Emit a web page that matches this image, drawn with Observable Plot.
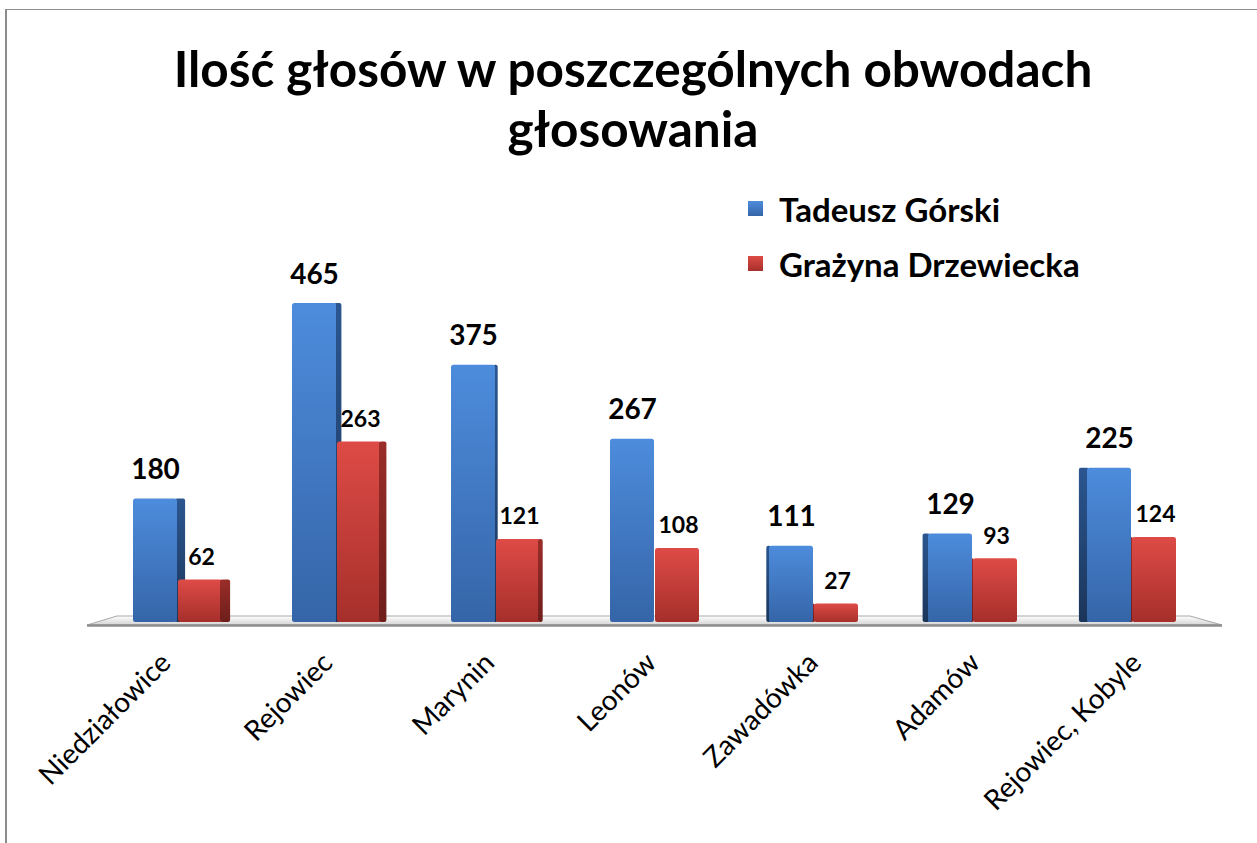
<!DOCTYPE html>
<html>
<head>
<meta charset="utf-8">
<script src="https://cdn.jsdelivr.net/npm/d3@7"></script>
<script src="https://cdn.jsdelivr.net/npm/@observablehq/plot@0.6"></script>
<style>
  html, body { margin: 0; padding: 0; background: #fff; overflow: hidden; }
  #wrap { position: relative; width: 1257px; height: 843px; font-family: Lato, "Open Sans", sans-serif; }
  #frame { position: absolute; left: 5px; top: 9px; right: -10px; bottom: -10px; border-top: 1.5px solid #8c8c8c; border-left: 2.5px solid #8c8c8c; }
  #title { position: absolute; left: 0; width: 1266px; top: 38px; text-align: center; font-weight: 700; font-size: 49.5px; line-height: 60px; color: #000; }
  #legend { position: absolute; left: 748px; top: 181px; }
  .li { display: flex; align-items: center; height: 55px; font-size: 33px; font-weight: 700; color: #000; }
  .sw { width: 15px; height: 15px; margin-right: 16px; }
  #chart { position: absolute; left: 0; top: 0; }
</style>
</head>
<body>
<div id="wrap">
  <div id="frame"></div>
  <div id="chart"></div>
  <div id="title">Ilość głosów w poszczególnych obwodach<br>głosowania</div>
  <div id="legend"></div>
</div>
<script>
const categories = ["Niedziałowice", "Rejowiec", "Marynin", "Leonów", "Zawadówka", "Adamów", "Rejowiec, Kobyle"];
const seriesNames = ["Tadeusz Górski", "Grażyna Drzewiecka"];
const gorski = [180, 465, 375, 267, 111, 129, 225];
const drzewiecka = [62, 263, 121, 108, 27, 93, 124];

const blueData = categories.map((c, i) => ({cat: c, value: gorski[i], i}));
const redData = categories.map((c, i) => ({cat: c, value: drzewiecka[i], i}));

function defsMark() {
  const defs = d3.create("svg:defs");
  const grads = [
    ["gBlue", "#4d8cdc", "#3565a8"],
    ["gRed", "#de4b46", "#a62f2b"],
    ["gBlueSide", "#2b5690", "#1b3559"],
    ["gRedSide", "#9a2d29", "#6e1e1b"],
    ["gFloor", "#ffffff", "#d4d4d4"]
  ];
  for (const [id, c1, c2] of grads) {
    const g = defs.append("linearGradient").attr("id", id).attr("x1", 0).attr("y1", 0).attr("x2", 0).attr("y2", 1);
    g.append("stop").attr("offset", "0%").attr("stop-color", c1);
    g.append("stop").attr("offset", "100%").attr("stop-color", c2);
  }
  return defs.node();
}

function floorMark(...args) {
  const dims = args.find(a => a && typeof a === "object" && a.marginLeft !== undefined && a.width !== undefined);
  const x0 = dims.marginLeft, x1 = dims.width - dims.marginRight, y0 = dims.height - dims.marginBottom;
  const g = d3.create("svg:g");
  g.append("polygon")
    .attr("points", [[x0 - 16, y0 - 6], [x1 + 13, y0 - 6], [x1 + 45, y0 + 3], [x0 - 46, y0 + 3]].map(p => p.join(",")).join(" "))
    .attr("fill", "url(#gFloor)").attr("stroke", "#a8a8a8").attr("stroke-width", 1);
  g.append("line").attr("x1", x0 - 46).attr("x2", x1 + 45).attr("y1", y0 + 3.5).attr("y2", y0 + 3.5)
    .attr("stroke", "#8e8e8e").attr("stroke-width", 2.5);
  return g.node();
}

const BW = 90; // band width in px (two bars of ~45)
const sideW = i => (3 - i) * 2.7;

const marks = [defsMark, floorMark];

for (const d of redData) {
  const s = sideW(d.i);
  if (s < 0) marks.push(Plot.barY([d], {x: "cat", y: "value", fill: "url(#gRedSide)", insetRight: BW + s - 2, dx: 45 + s - 1, rx: 2}));
}
for (const d of blueData) {
  const s = sideW(d.i);
  if (s > 0.5) marks.push(Plot.barY([d], {x: "cat", y: "value", fill: "url(#gBlueSide)", insetRight: BW - s - 2, dx: 42, rx: 2}));
  if (s < -0.5) marks.push(Plot.barY([d], {x: "cat", y: "value", fill: "url(#gBlueSide)", insetRight: BW + s - 2, dx: s, rx: 2}));
}
marks.push(Plot.barY(blueData, {x: "cat", y: "value", fill: "url(#gBlue)", insetRight: 46, rx: 2.5}));
marks.push(Plot.barY(redData, {x: "cat", y: "value", fill: "url(#gRed)", insetLeft: 45, insetRight: 1, rx: 2.5}));
for (const d of redData) {
  const s = sideW(d.i);
  if (s > 0.5) marks.push(Plot.barY([d], {x: "cat", y: "value", fill: "url(#gRedSide)", insetRight: BW - s - 2, dx: 87, rx: 2}));
}

// value labels
marks.push(Plot.text(blueData, {x: "cat", y: "value", text: d => String(d.value), dx: -23, dy: -20, lineAnchor: "bottom",
  fontSize: 28, fontWeight: 700, fill: "#000", fontFamily: "Lato"}));
marks.push(Plot.text(redData, {x: "cat", y: "value", text: d => String(d.value), dx: 23, dy: -15, lineAnchor: "bottom",
  fontSize: 23, fontWeight: 700, fill: "#000", fontFamily: "Lato"}));

// category labels (slight perspective spread)
categories.forEach((c, i) => {
  marks.push(Plot.text([c], {x: d => d, frameAnchor: "bottom", text: d => d, rotate: -45, textAnchor: "end",
    dx: -6 + i * 2.8, dy: 42, fontSize: 28, fill: "#000", fontFamily: "Lato"}));
});

const chart = Plot.plot({
  width: 1257,
  height: 843,
  marginLeft: 133,
  marginRight: 80,
  marginTop: 279,
  marginBottom: 221,
  x: {domain: categories, paddingInner: 1 - 90 / 159, paddingOuter: 0, round: false, axis: null},
  y: {domain: [0, 500], axis: null},
  style: {background: "transparent", overflow: "visible"},
  marks
});
document.getElementById("chart").appendChild(chart);

const legend = document.getElementById("legend");
const swatchFills = ["linear-gradient(#4d8cdc, #3565a8)", "linear-gradient(#de4b46, #a62f2b)"];
seriesNames.forEach((name, k) => {
  const row = document.createElement("div");
  row.className = "li";
  const sw = document.createElement("div");
  sw.className = "sw";
  sw.style.background = swatchFills[k];
  row.appendChild(sw);
  row.appendChild(document.createTextNode(name));
  legend.appendChild(row);
});
</script>
</body>
</html>
